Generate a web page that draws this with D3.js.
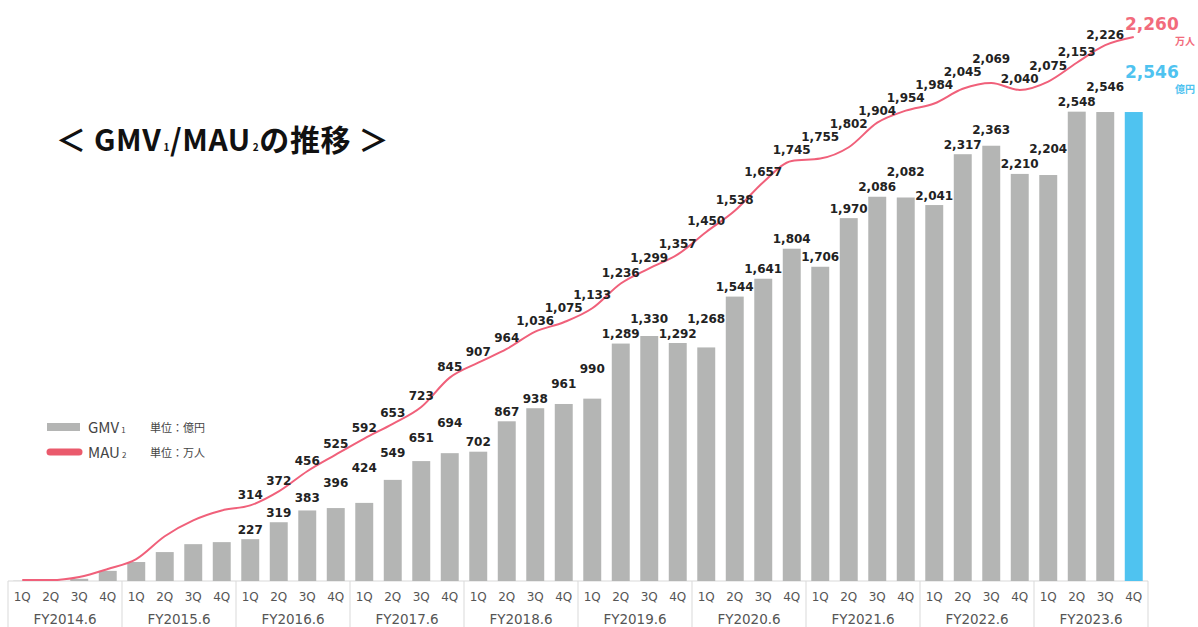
<!DOCTYPE html>
<html><head><meta charset="utf-8">
<script src="https://cdn.jsdelivr.net/npm/d3@7/dist/d3.min.js"></script>
<style>
html,body{margin:0;padding:0;background:#fff;}
svg{display:block;}
</style></head>
<body>
<svg id="c" width="1198" height="627"></svg>
<script>
const years = ["FY2014.6","FY2015.6","FY2016.6","FY2017.6","FY2018.6","FY2019.6","FY2020.6","FY2021.6","FY2022.6","FY2023.6"];
const quarters = ["1Q","2Q","3Q","4Q"];
// GMV (億円) per quarter; FY2014.6–FY2015.6 unlabeled
const gmv = [1,3,12,55, 103,157,200,211, 227,319,383,396, 424,549,651,694, 702,867,938,961,
             990,1289,1330,1292, 1268,1544,1641,1804, 1706,1970,2086,2082, 2041,2317,2363,2210, 2204,2548,2546,2546];
// MAU (万人) per quarter; FY2014.6–FY2015.6 unlabeled, estimated from line
const mau = [4,4,17,50, 91,186,252,293, 314,372,456,525, 592,653,723,845, 907,964,1036,1075,
             1133,1236,1299,1357, 1450,1538,1657,1745, 1755,1802,1904,1954, 1984,2045,2069,2040, 2075,2153,2226,2260];
const labeledFrom = 8; // first labeled quarter index
const latestGmvText = "2,546", latestMauText = "2,260";

const svg = d3.select("#c");
const base = 581;
const idx = d3.range(gmv.length);
const x = d3.scaleBand().domain(idx).range([8,1148]).paddingInner(0.37).paddingOuter(0.185);
const yG = d3.scaleLinear().domain([0,3000]).range([base, base-3000*0.1842]);
const yM = d3.scaleLinear().domain([0,2400]).range([base, base-2400*0.2407]);
const fmt = d3.format(",");
const numFont = "'DejaVu Sans', Verdana, sans-serif";
const jpFont = "'Noto Sans CJK JP', 'Noto Sans', sans-serif";
const cxOf = i => x(i)+x.bandwidth()/2;

// Title
const title = svg.append("text").attr("x",56).attr("y",151)
  .attr("font-family",jpFont).attr("font-weight",700).attr("font-size",30).attr("fill","#111")
  .attr("letter-spacing",0.6);
title.append("tspan").text("＜ GMV");
title.append("tspan").attr("font-size",10).attr("dx",2).text("1");
title.append("tspan").text("/MAU");
title.append("tspan").attr("font-size",10).attr("dx",2).text("2");
title.append("tspan").text("の推移 ＞");

// Axis frame
const grey = "#d9d9d9";
svg.append("line").attr("x1",8).attr("x2",1148).attr("y1",base).attr("y2",base).attr("stroke",grey).attr("stroke-width",1);
const groupEdges = d3.range(years.length+1).map(i => 8 + i*x.step()*4);
svg.selectAll("line.sep").data(groupEdges).join("line").attr("class","sep")
  .attr("x1",d=>d).attr("x2",d=>d).attr("y1",base).attr("y2",627).attr("stroke",grey);

// Quarter axis
const qAxis = d3.axisBottom(x).tickSize(0).tickPadding(11).tickFormat(i => quarters[i%4]);
const gq = svg.append("g").attr("transform",`translate(0,${base})`).call(qAxis);
gq.select(".domain").remove();
gq.selectAll("text").attr("font-family",numFont).attr("font-size",12).attr("fill","#555");

// Year labels
svg.selectAll("text.yr").data(years).join("text").attr("class","yr")
  .attr("x",(d,i)=>groupEdges[i]+x.step()*2).attr("y",624)
  .attr("text-anchor","middle").attr("font-family",numFont).attr("font-size",13.5).attr("fill","#555")
  .text(d=>d);

// Bars
svg.selectAll("rect.bar").data(idx).join("rect").attr("class","bar")
  .attr("x",i=>x(i)).attr("width",x.bandwidth())
  .attr("y",i=>yG(gmv[i])).attr("height",i=>base-yG(gmv[i]))
  .attr("fill",i=> i===gmv.length-1 ? "#4fc3f0" : "#b4b5b4");

// MAU line
const line = d3.line().x(cxOf).y(i=>yM(mau[i])).curve(d3.curveMonotoneX);
svg.append("path").datum(idx).attr("d",line).attr("fill","none").attr("stroke","#f0607a").attr("stroke-width",2);

// label placement with simple collision bump against previous label
function place(values, scale, gap, bump){
  let prev = null; const out = [];
  idx.filter(i=>i>=labeledFrom && i<values.length-1).forEach(i=>{
    const cx = cxOf(i);
    let cy = scale(values[i]) - gap;
    if (prev && Math.abs(prev.cx-cx) < 37 && Math.abs(prev.cy-cy) < 13) cy = prev.cy - bump;
    out.push({i,cx,cy}); prev = {cx,cy};
  });
  return out;
}
const gLabels = place(gmv, yG, 10, 15);
svg.selectAll("text.gl").data(gLabels).join("text").attr("class","gl")
  .attr("x",d=>d.cx).attr("y",d=>d.cy+4.5).attr("text-anchor","middle")
  .attr("font-family",numFont).attr("font-weight",700).attr("font-size",12).attr("fill","#222")
  .text(d=>fmt(gmv[d.i]));

const mLabels = place(mau, yM, 11, 13);
svg.selectAll("text.ml").data(mLabels).join("text").attr("class","ml")
  .attr("x",d=>d.cx).attr("y",d=>d.cy+4.5).attr("text-anchor","middle")
  .attr("font-family",numFont).attr("font-weight",700).attr("font-size",12).attr("fill","#222")
  .text(d=>fmt(mau[d.i]));

// Latest highlights
svg.append("text").attr("x",1125).attr("y",30).attr("font-family",numFont).attr("font-weight",700)
  .attr("font-size",17).attr("fill","#f26b7c").text(latestMauText);
svg.append("text").attr("x",1175).attr("y",45).attr("font-family",jpFont).attr("font-weight",700)
  .attr("font-size",10).attr("fill","#f26b7c").text("万人");
svg.append("text").attr("x",1125).attr("y",78).attr("font-family",numFont).attr("font-weight",700)
  .attr("font-size",17).attr("fill","#4fc3f0").text(latestGmvText);
svg.append("text").attr("x",1175).attr("y",93).attr("font-family",jpFont).attr("font-weight",700)
  .attr("font-size",10).attr("fill","#4fc3f0").text("億円");

// Legend
const lg = svg.append("g");
lg.append("rect").attr("x",47).attr("y",423).attr("width",33).attr("height",8).attr("fill","#b4b5b4");
const t1 = lg.append("text").attr("x",88).attr("y",433).attr("font-family",jpFont).attr("font-size",15).attr("fill","#444");
t1.append("tspan").text("GMV"); t1.append("tspan").attr("font-size",8).attr("dx",2).text("1");
lg.append("text").attr("x",150).attr("y",432).attr("font-family",jpFont).attr("font-size",11).attr("fill","#444").text("単位：億円");
lg.append("line").attr("x1",50).attr("x2",79).attr("y1",452).attr("y2",452).attr("stroke","#ea5a6c").attr("stroke-width",7).attr("stroke-linecap","round");
const t2 = lg.append("text").attr("x",88).attr("y",458).attr("font-family",jpFont).attr("font-size",15).attr("fill","#444");
t2.append("tspan").text("MAU"); t2.append("tspan").attr("font-size",8).attr("dx",2).text("2");
lg.append("text").attr("x",150).attr("y",457).attr("font-family",jpFont).attr("font-size",11).attr("fill","#444").text("単位：万人");
</script>
</body></html>
